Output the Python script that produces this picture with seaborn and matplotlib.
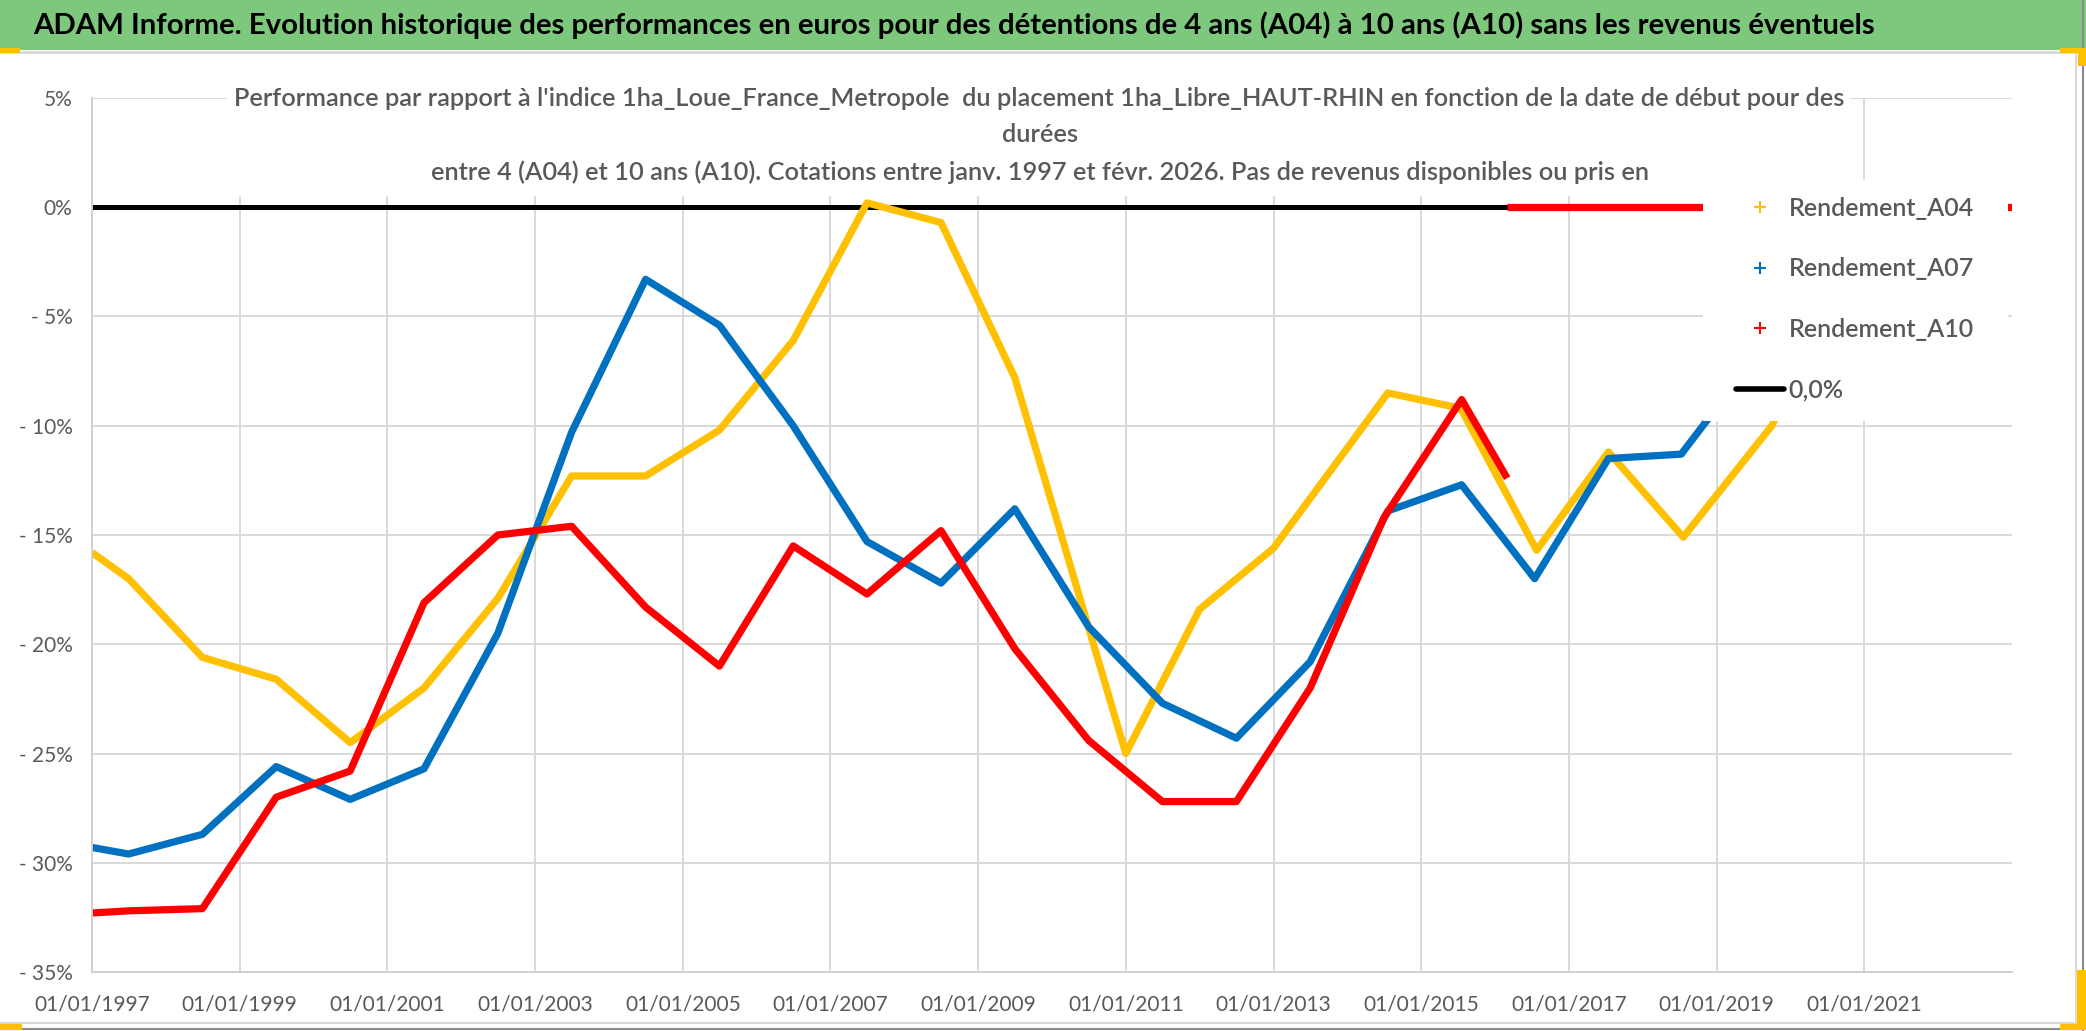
import matplotlib
matplotlib.use("Agg")
import matplotlib.pyplot as plt
from matplotlib.patches import Rectangle
from matplotlib.lines import Line2D
import matplotlib.dates as mdates
import pandas as pd
import seaborn as sns

# ---------------- data (percent) ----------------
a04_dates = ["1997-01-01", "1997-07-01", "1998-07-01", "1999-07-01", "2000-07-01", "2001-07-01",
             "2002-07-01", "2003-07-01", "2004-07-01", "2005-07-01", "2006-07-01", "2007-07-01",
             "2008-07-01", "2009-07-01", "2011-01-01", "2012-01-01", "2013-01-01", "2014-07-20",
             "2015-07-15", "2016-07-25", "2017-07-15", "2018-07-20", "2019-10-01", "2020-01-01"]
a04_vals = [-15.8, -17.0, -20.6, -21.6, -24.5, -22.0,
            -17.9, -12.3, -12.3, -10.2, -6.1, 0.2,
            -0.7, -7.8, -25.0, -18.4, -15.6, -8.5,
            -9.2, -15.7, -11.2, -15.1, -10.0, -8.3]

a07_dates = ["1997-01-01", "1997-07-01", "1998-07-01", "1999-07-01", "2000-07-01", "2001-07-01",
             "2002-07-01", "2003-07-01", "2004-07-01", "2005-07-01", "2006-07-01", "2007-07-01",
             "2008-07-01", "2009-07-01", "2010-07-01", "2011-07-01", "2012-07-01", "2013-07-01",
             "2014-07-20", "2015-07-20", "2016-07-15", "2017-07-15", "2018-07-10", "2019-02-01"]
a07_vals = [-29.3, -29.6, -28.7, -25.6, -27.1, -25.7,
            -19.5, -10.3, -3.3, -5.4, -10.0, -15.3,
            -17.2, -13.8, -19.2, -22.7, -24.3, -20.8,
            -13.9, -12.7, -17.0, -11.5, -11.3, -8.8]

a10_dates = ["1997-01-01", "1997-07-01", "1998-07-01", "1999-07-01", "2000-07-01", "2001-07-01",
             "2002-07-01", "2003-07-01", "2004-07-01", "2005-07-01", "2006-07-01", "2007-07-01",
             "2008-07-01", "2009-07-01", "2010-07-01", "2011-07-01", "2012-07-01", "2013-07-01",
             "2014-07-01", "2015-07-20", "2016-03-01"]
a10_vals = [-32.3, -32.2, -32.1, -27.0, -25.8, -18.1,
            -15.0, -14.6, -18.3, -21.0, -15.5, -17.7,
            -14.8, -20.2, -24.4, -27.2, -27.2, -22.0,
            -14.2, -8.8, -12.4]
# A10 after its last available start date (no data -> 0)
a10_pad_dates = ["2016-03-01", "2023-01-01"]
a10_pad_vals = [0.0, 0.0]

zero_dates = ["1997-01-01", "2023-01-01"]
zero_vals = [0.0, 0.0]

series_names = ["Rendement_A04", "Rendement_A07", "Rendement_A10", "0,0%"]
x_ticks = ["1997-01-01", "1999-01-01", "2001-01-01", "2003-01-01", "2005-01-01", "2007-01-01",
           "2009-01-01", "2011-01-01", "2013-01-01", "2015-01-01", "2017-01-01", "2019-01-01",
           "2021-01-01"]
y_ticks = [5, 0, -5, -10, -15, -20, -25, -30, -35]
y_labels = ["5%", "0%", "- 5%", "- 10%", "- 15%", "- 20%", "- 25%", "- 30%", "- 35%"]

main_title = ("ADAM Informe. Evolution historique des performances en euros pour des détentions "
              "de 4 ans (A04) à 10 ans (A10) sans les revenus éventuels")
sub_lines = ["Performance par rapport à l'indice 1ha_Loue_France_Metropole  du placement "
             "1ha_Libre_HAUT-RHIN en fonction de la date de début pour des",
             "durées",
             "entre 4 (A04) et 10 ans (A10). Cotations entre janv. 1997 et févr. 2026. "
             "Pas de revenus disponibles ou pris en"]

# ---------------- style ----------------
sns.set_style("white")
plt.rcParams["font.family"] = ["Lato", "DejaVu Sans"]
GRAY = "#595959"
YEL, BLU, RED = "#FFC000", "#0070C0", "#FF0000"

W, H = 2086, 1031
fig = plt.figure(figsize=(W / 100, H / 100), dpi=100)
fig.patch.set_facecolor("white")

def fx(px):
    return px / W

def fy(py):
    return 1 - py / H

ax_l, ax_r, ax_t, ax_b = 92, 2012, 98, 972
ax = fig.add_axes([fx(ax_l), fy(ax_b), fx(ax_r - ax_l), (ax_b - ax_t) / H])
ax.set_facecolor("white")

lw = 5.2
sns.lineplot(x=pd.to_datetime(zero_dates), y=zero_vals, color="black", linewidth=3.6,
             ax=ax, legend=False, sort=False, estimator=None)
sns.lineplot(x=pd.to_datetime(a04_dates), y=a04_vals, color=YEL, linewidth=lw,
             ax=ax, legend=False, sort=False, estimator=None)
sns.lineplot(x=pd.to_datetime(a07_dates), y=a07_vals, color=BLU, linewidth=lw,
             ax=ax, legend=False, sort=False, estimator=None)
sns.lineplot(x=pd.to_datetime(a10_dates), y=a10_vals, color=RED, linewidth=lw,
             ax=ax, legend=False, sort=False, estimator=None)
sns.lineplot(x=pd.to_datetime(a10_pad_dates), y=a10_pad_vals, color=RED, linewidth=lw,
             ax=ax, legend=False, sort=False, estimator=None)
for ln in ax.lines:
    ln.set_solid_capstyle("butt")
    ln.set_solid_joinstyle("round")

ax.set_xlim(pd.Timestamp("1997-01-01"), pd.Timestamp("2023-01-01"))
ax.set_ylim(-35, 5)
ax.set_xticks(pd.to_datetime(x_ticks))
ax.xaxis.set_major_formatter(mdates.DateFormatter("%d/%m/%Y"))
ax.set_yticks(y_ticks)
ax.set_yticklabels(y_labels)
ax.set_xlabel("")
ax.set_ylabel("")
ax.tick_params(axis="both", length=0, colors=GRAY, labelsize=15)
ax.tick_params(axis="y", pad=14)
ax.tick_params(axis="x", pad=16)
ax.grid(True, color="#D9D9D9", linewidth=1.4)
ax.set_axisbelow(True)
for s in ["top", "right"]:
    ax.spines[s].set_visible(False)
for s in ["left", "bottom"]:
    ax.spines[s].set_color("#D0D0D0")
    ax.spines[s].set_linewidth(1.4)

# ---------------- frame decorations ----------------
fig.add_artist(Rectangle((0, fy(50)), 1, 50 / H, transform=fig.transFigure,
                         facecolor="#7EC87E", edgecolor="none", zorder=1))
fig.add_artist(Line2D([0, 1], [fy(52), fy(52)], transform=fig.transFigure,
                      color="#D9D9D9", lw=2, zorder=1))
fig.add_artist(Line2D([fx(2076), fx(2076)], [fy(52), fy(1023)], transform=fig.transFigure,
                      color="#D9D9D9", lw=1.5, zorder=1))
fig.add_artist(Line2D([0, fx(2076)], [fy(1023), fy(1023)], transform=fig.transFigure,
                      color="#D9D9D9", lw=1.5, zorder=1))
fig.add_artist(Line2D([0, 1], [fy(1029), fy(1029)], transform=fig.transFigure,
                      color="#8C8C8C", lw=1.5, zorder=1))
fig.add_artist(Line2D([fx(2083), fx(2083)], [fy(0), fy(1031)], transform=fig.transFigure,
                      color="#8C8C8C", lw=1.5, zorder=1))
for (x0, y0, w, h) in [(0, 48, 20, 5), (2060, 48, 26, 5), (2078, 48, 8, 18),
                       (0, 1024, 22, 6), (2060, 1024, 26, 6), (2077, 970, 9, 60)]:
    fig.add_artist(Rectangle((fx(x0), fy(y0 + h)), w / W, h / H, transform=fig.transFigure,
                             facecolor="#FFC000", edgecolor="none", zorder=2))

# white boxes of subtitle and legend
fig.add_artist(Rectangle((fx(227), fy(196)), fx(1850 - 227), (196 - 75) / H,
                         transform=fig.transFigure, facecolor="white", edgecolor="none", zorder=2))
fig.add_artist(Rectangle((fx(1703), fy(421)), fx(2008 - 1703), (421 - 180) / H,
                         transform=fig.transFigure, facecolor="white", edgecolor="none", zorder=2))

renderer = fig.canvas.get_renderer()

def fit(t, target_w):
    w = t.get_window_extent(renderer).width
    t.set_fontsize(t.get_fontsize() * target_w / w)

t0 = fig.text(fx(33), fy(25), main_title, ha="left", va="center", color="black",
              fontsize=24, fontweight="bold", zorder=3)
fit(t0, 1877 - 33)

t1 = fig.text(fx(1039), fy(98), sub_lines[0], ha="center", va="center", color=GRAY,
              fontsize=18, fontweight="semibold", zorder=3)
fit(t1, 1843 - 233)
fs_sub = t1.get_fontsize()
fig.text(fx(1040), fy(135), sub_lines[1], ha="center", va="center", color=GRAY,
         fontsize=fs_sub, fontweight="semibold", zorder=3)
fig.text(fx(1040), fy(172), sub_lines[2], ha="center", va="center", color=GRAY,
         fontsize=fs_sub, fontweight="semibold", zorder=3)

handles = [Line2D([], [], color=YEL, marker="+", linestyle="none", markersize=9, markeredgewidth=1.5),
           Line2D([], [], color=BLU, marker="+", linestyle="none", markersize=9, markeredgewidth=1.5),
           Line2D([], [], color=RED, marker="+", linestyle="none", markersize=9, markeredgewidth=1.5),
           Line2D([], [], color="black", linewidth=4)]
leg = fig.legend(handles, series_names, loc="upper left",
                 bbox_to_anchor=(fx(1736), fy(197)), frameon=False,
                 prop={"size": 18, "weight": "semibold"},
                 labelcolor=GRAY, borderpad=0, borderaxespad=0, handlelength=1.9,
                 handletextpad=0.2, labelspacing=1.5)
leg.set_zorder(4)

fig.savefig("out.png", dpi=100)
